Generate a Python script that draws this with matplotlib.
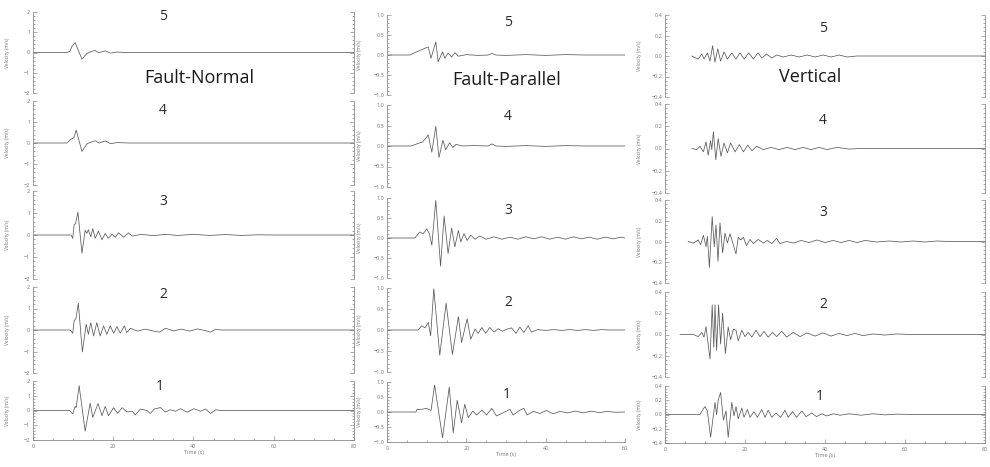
import matplotlib
matplotlib.use("Agg")
import matplotlib.pyplot as plt
from matplotlib.ticker import AutoMinorLocator, FixedLocator

plt.rcParams['font.family'] = ['Open Sans', 'DejaVu Sans']

# --- traces: (time s, velocity m/s) ---
# Fault-Normal, stations 5..1
fn5 = [(0, 0), (8.4, 0), (9.2, 0.05), (9.7, 0.3), (10.5, 0.49), (12.2, -0.33), (13.4, -0.05),
       (14.5, 0.05), (15.5, 0.1), (16.3, 0.0), (17.2, 0.03), (18.0, 0.08), (19.3, -0.03),
       (20.9, 0.02), (23.4, 0), (80, 0)]
fn4 = [(0, 0), (8.4, 0), (9.6, 0.2), (10.2, 0.25), (10.75, 0.62), (12.2, -0.4), (13.5, -0.03),
       (15.5, 0.11), (16.5, 0.0), (18.0, 0.1), (19.3, -0.03), (21.0, 0.02), (24.0, 0), (80, 0)]
fn3 = [(0, 0), (9.5, 0), (9.9, -0.15), (10.25, 0.46), (10.6, 0.52), (11.2, 1.04), (12.2, -0.83),
       (13.0, 0.22), (13.4, 0.07), (13.8, 0.24), (14.4, -0.08), (14.9, 0.29), (15.5, -0.15),
       (16.3, 0.18), (17.2, -0.22), (18.0, 0.07), (18.8, -0.15), (19.7, 0.04), (20.5, -0.1),
       (21.3, 0.1), (22.6, -0.1), (23.8, 0.1), (24.7, -0.05), (27, 0.03), (30, -0.03), (33, 0.03),
       (36, -0.02), (40, 0.03), (44, -0.02), (48, 0.02), (52, -0.02), (56, 0.01), (60, 0), (80, 0)]
fn2 = [(0, 0), (9.25, 0), (9.9, -0.15), (10.25, 0.42), (10.7, 0.53), (11.3, 1.24), (12.3, -1.02),
       (13.25, 0.27), (13.8, -0.2), (14.4, 0.34), (15.1, -0.28), (15.9, 0.34), (16.75, -0.28),
       (17.6, 0.19), (18.4, -0.2), (19.25, 0.19), (20.1, -0.15), (20.9, 0.16), (21.75, -0.15),
       (22.75, 0.19), (23.4, -0.12), (24.25, 0.08), (26, -0.05), (28, 0.04), (30, -0.05),
       (31.5, -0.1), (33, 0.08), (35, -0.04), (37, 0.04), (39, -0.05), (41, 0.05), (43, -0.03),
       (44.2, -0.1), (45.5, 0.03), (47, 0), (80, 0)]
fn1 = [(0, 0), (9.1, 0), (9.9, -0.23), (10.5, 0.28), (10.75, 0.2), (11.5, 1.68), (13.0, -1.4),
       (14.25, 0.5), (14.9, -0.47), (16.2, 0.47), (17.2, -0.35), (18.0, 0.28), (18.8, -0.35),
       (20.1, 0.19), (21.1, -0.19), (22.2, 0.19), (23.4, -0.1), (24.7, -0.05), (25.5, -0.3),
       (26.75, 0.1), (28.4, 0.0), (29.25, -0.2), (30.25, 0.1), (31.75, 0.2), (33.0, -0.1),
       (34.25, 0.05), (35.5, -0.05), (36.75, 0.12), (38.4, -0.12), (40.1, 0.12), (41.75, -0.05),
       (43.0, 0.1), (44.25, -0.2), (45.5, 0.05), (46.75, 0), (80, 0)]

# Fault-Parallel, stations 5..1
fp5 = [(0, 0), (5.8, 0), (7.5, 0.08), (9.6, 0.17), (10.4, 0.2), (11.1, -0.08), (12.3, 0.33),
       (12.9, -0.17), (14.0, 0.08), (14.6, -0.08), (15.4, 0.05), (16.3, -0.05), (17.1, 0.06),
       (18.0, -0.03), (20, 0.01), (23, -0.01), (25.5, 0.0), (26.4, 0.04), (27.5, 0.0),
       (30, -0.01), (35, 0.01), (40, -0.01), (45, 0.01), (50, 0), (60, 0)]
fp4 = [(0, 0), (6.0, 0), (7.5, 0.05), (9.0, 0.1), (10.4, 0.27), (11.3, -0.15), (12.3, 0.48),
       (13.1, -0.28), (14.1, 0.14), (14.8, -0.09), (15.8, 0.08), (16.6, -0.04), (17.4, 0.04),
       (19, 0.0), (22, 0.01), (25.5, 0.0), (26.4, 0.05), (27.5, 0.0), (30, -0.01), (35, 0.01),
       (40, -0.01), (45, 0.01), (50, 0), (60, 0)]
fp3 = [(0, 0), (7.0, 0), (8.3, 0.15), (9.1, 0.1), (10.0, 0.23), (10.7, 0.1), (11.3, -0.18),
       (12.3, 0.94), (13.5, -0.7), (14.4, 0.55), (15.4, -0.39), (16.3, 0.25), (17.1, -0.22),
       (18.0, 0.19), (18.6, -0.1), (19.4, 0.11), (20.2, -0.06), (21.1, 0.07), (22.2, -0.03),
       (23.4, 0.05), (25, -0.03), (27, 0.03), (29, -0.03), (31, 0.02), (33, -0.03), (35, 0.03),
       (37, -0.02), (39, 0.03), (41, -0.03), (43, 0.02), (45, -0.03), (47, 0.03), (49, -0.02),
       (51, 0.02), (53, -0.03), (55, 0.02), (57, -0.02), (59, 0.02), (60, 0)]
fp2 = [(0, 0), (7.9, 0), (8.7, 0.1), (9.6, 0.05), (10.4, 0.18), (11.0, -0.14), (11.8, 0.98),
       (13.3, -0.6), (14.9, 0.64), (16.5, -0.58), (18.0, 0.32), (18.8, -0.3), (20.2, 0.27),
       (21.1, -0.22), (22.2, 0.02), (23.0, -0.08), (23.9, 0.06), (24.9, -0.08), (25.9, 0.06),
       (27.0, -0.05), (28.0, 0.03), (29.1, -0.03), (30.2, 0.02), (31.4, 0.05), (32.5, -0.08),
       (33.5, 0.07), (34.5, -0.06), (35.6, 0.1), (36.4, -0.05), (38, 0.01), (40, -0.01),
       (42, 0.01), (44, -0.01), (46, 0.01), (48, -0.01), (50, 0.01), (52, -0.01), (54, 0.01),
       (56, 0), (60, 0)]
fp1 = [(0, 0), (7.3, 0), (7.5, 0.08), (8.7, 0.09), (10.0, 0.12), (11.1, 0.05), (12.0, 0.9),
       (14.0, -0.86), (15.7, 0.83), (16.7, -0.69), (17.7, 0.39), (18.8, -0.36), (19.6, 0.26),
       (20.5, -0.19), (21.6, 0.03), (22.6, -0.1), (23.9, 0.06), (25.1, -0.1), (26.4, 0.12),
       (27.6, -0.13), (28.9, -0.05), (31.0, 0.09), (31.8, -0.1), (33.5, 0.06), (34.5, 0.12),
       (35.3, -0.1), (36.9, 0.02), (38.5, -0.05), (40.2, 0.05), (41.9, -0.06), (43.6, 0.02),
       (45.5, -0.03), (47.5, 0.03), (49.5, -0.03), (51.5, 0.03), (53.5, -0.02), (55.5, 0.02),
       (57.5, -0.01), (60, 0)]

# Vertical, stations 5..1
vt5 = [(6.7, 0), (7.1, -0.01), (8.3, -0.03), (9.2, 0.02), (9.75, -0.03), (10.6, 0.03),
       (11.25, -0.05), (11.9, 0.1), (12.5, -0.06), (13.2, 0.07), (13.9, -0.05), (14.75, 0.04),
       (15.6, -0.03), (16.7, 0.03), (17.75, -0.03), (18.75, 0.03), (19.8, -0.03), (20.9, 0.03),
       (22.1, -0.03), (23.2, 0.03), (24.25, -0.02), (25.4, 0.02), (26.7, -0.02), (27.9, 0.01),
       (29.6, -0.01), (31.5, 0.01), (33.5, -0.01), (35.5, 0.01), (37.5, -0.01), (39.5, 0.01),
       (41.5, -0.01), (43.5, 0.01), (45.5, -0.01), (48, 0), (80, 0)]
vt4 = [(6.7, 0), (7.9, -0.01), (8.75, 0.02), (9.6, -0.03), (10.25, 0.06), (10.8, -0.06),
       (11.4, 0.07), (11.7, -0.01), (12.1, 0.15), (12.7, -0.1), (13.3, 0.09), (14.0, -0.07),
       (14.75, 0.05), (15.6, -0.04), (16.4, 0.05), (17.5, -0.03), (18.6, 0.035), (19.6, -0.03),
       (20.7, 0.03), (21.75, -0.02), (22.9, 0.02), (24.6, -0.01), (26.5, 0.01), (28.5, -0.01),
       (30.5, 0.01), (32.5, -0.01), (34.5, 0.01), (36.5, -0.01), (38.5, 0.01), (40.5, -0.01),
       (43, 0.01), (46, -0.005), (49, 0), (80, 0)]
vt3 = [(5.8, 0), (7.1, -0.015), (8.3, 0.015), (8.9, -0.03), (9.6, 0.06), (10.25, -0.05),
       (10.6, 0.05), (11.1, -0.25), (11.8, 0.24), (12.3, -0.05), (12.75, 0.16), (13.25, -0.19),
       (13.75, 0.18), (14.4, -0.11), (15.0, 0.08), (15.6, -0.015), (16.25, 0.075), (17.75, -0.12),
       (18.3, 0.04), (18.9, 0.015), (19.6, 0.04), (20.4, -0.04), (21.25, 0.02), (22.1, -0.02),
       (23.3, 0.02), (24.6, -0.015), (25.6, 0.01), (26.7, -0.02), (27.9, 0.03), (28.75, -0.02),
       (30.4, 0.0), (32.1, -0.015), (34, 0.01), (36, -0.01), (38, 0.015), (40, -0.01), (42, 0.01),
       (44, -0.01), (46, 0.01), (48, -0.01), (50, 0.01), (53, -0.005), (56, 0.005), (59, -0.005),
       (62, 0.005), (65, -0.005), (68, 0.005), (71, 0), (80, 0)]
vt2 = [(3.75, 0), (7.1, 0), (8.3, -0.02), (9.2, 0.02), (9.75, -0.025), (10.25, 0.075),
       (11.25, -0.23), (11.8, 0.28), (12.2, -0.12), (12.5, 0.28), (12.9, -0.15), (13.4, 0.28),
       (13.9, -0.09), (14.4, 0.2), (15.1, -0.18), (15.8, 0.07), (16.4, -0.05), (17.1, 0.05),
       (17.75, 0.04), (18.3, -0.06), (19.2, 0.04), (20.0, -0.02), (20.8, 0.02), (21.7, -0.025),
       (22.75, 0.04), (23.75, -0.02), (24.75, 0.03), (25.8, -0.025), (26.9, 0.02), (27.9, -0.02),
       (29.2, 0.03), (30.4, -0.025), (32.1, 0.02), (33.75, -0.02), (35.5, 0.015), (37.5, -0.015),
       (39.5, 0.015), (41.5, -0.015), (43.5, 0.01), (45.5, -0.01), (47.5, 0.01), (49.5, -0.01),
       (52, 0.005), (55, -0.005), (58, 0.005), (61, 0), (80, 0)]
vt1 = [(0, 0), (8.75, 0), (9.6, 0.08), (10.0, 0.11), (10.6, 0.05), (11.4, -0.32), (12.5, 0.17),
       (12.9, 0.0), (13.3, 0.2), (13.9, 0.31), (14.6, -0.08), (15.25, 0.05), (15.8, -0.32),
       (16.7, 0.17), (17.25, -0.02), (17.75, 0.11), (18.3, -0.06), (19.2, 0.09), (19.75, -0.04),
       (20.6, 0.07), (21.25, -0.04), (22.25, 0.04), (23.1, -0.04), (24.2, 0.07), (25.0, -0.04),
       (25.8, 0.06), (26.7, -0.04), (27.75, 0.02), (28.9, -0.04), (30.0, 0.06), (30.8, -0.04),
       (31.9, 0.04), (32.9, -0.04), (34.2, 0.05), (35.25, -0.03), (36.7, 0.02), (37.9, -0.03),
       (39.2, 0.01), (40.4, -0.02), (42.1, 0.01), (43.75, -0.01), (46, 0.01), (49, -0.01),
       (52, 0.01), (55, -0.005), (58, 0.005), (62, 0), (80, 0)]

stations = ['5', '4', '3', '2', '1']
titles = ['Fault-Normal', 'Fault-Parallel', 'Vertical']
columns_data = [[fn5, fn4, fn3, fn2, fn1], [fp5, fp4, fp3, fp2, fp1], [vt5, vt4, vt3, vt2, vt1]]
y_limits = [2.0, 1.0, 0.4]
y_ticks = [[-2, -1, 0, 1, 2], [-1.0, -0.5, 0.0, 0.5, 1.0], [-0.4, -0.2, 0.0, 0.2, 0.4]]
y_fmt = ['{:.0f}', '{:.1f}', '{:.1f}']
x_max = [80, 60, 80]

# --- layout in pixels ---
W, H = 990, 467
col_x = [(33, 354), (387, 625), (665, 985)]
rows_px = [
    [(12, 93), (101, 185), (191, 279), (287, 373), (381, 440)],
    [(15, 95), (105, 187), (198, 278), (288, 372), (382, 442)],
    [(15, 97), (104, 193), (200, 283), (292, 377), (386, 443)],
]
right_spine = [True, False, True]
ylabel_x = [10, 362, 642]
num_pos = [
    [(163, 17), (163, 110), (163, 202), (163, 295), (160, 387)],
    [(508, 22), (508, 117), (508, 210), (508, 303), (507, 395)],
    [(823, 28), (823, 121), (823, 213), (823, 305), (820, 397)],
]
title_pos = [(199, 78), (507, 80), (810, 77)]

GRAY = '#8a8a8a'
TRACE = '#5a5a5a'

fig = plt.figure(figsize=(W / 100, H / 100), dpi=100)

for c in range(3):
    x0, x1 = col_x[c]
    for r in range(5):
        ytop, ybot = rows_px[c][r]
        ax = fig.add_axes([x0 / W, 1 - ybot / H, (x1 - x0) / W, (ybot - ytop) / H])
        ax.patch.set_alpha(0)
        pts = columns_data[c][r]
        ax.plot([p[0] for p in pts], [p[1] for p in pts], color=TRACE, lw=0.55)
        lim = y_limits[c]
        ax.set_xlim(0, x_max[c])
        ax.set_ylim(-lim, lim)
        ax.yaxis.set_major_locator(FixedLocator(y_ticks[c]))
        ax.set_yticklabels([y_fmt[c].format(v).replace('-', '\u2212') for v in y_ticks[c]])
        ax.yaxis.set_minor_locator(AutoMinorLocator(5))
        ax.spines['top'].set_visible(False)
        ax.spines['right'].set_visible(right_spine[c])
        for s in ax.spines.values():
            s.set_color(GRAY)
            s.set_linewidth(0.6)
        ax.tick_params(axis='y', which='both', direction='in', right=right_spine[c],
                       labelright=False, colors=GRAY, labelcolor='#777777', labelsize=4, pad=2,
                       width=0.5)
        ax.tick_params(axis='y', which='major', length=3)
        ax.tick_params(axis='y', which='minor', length=1.5)
        ax.set_ylabel('Velocity (m/s)', fontsize=3.5, color='#777777')
        ax.yaxis.set_label_coords((ylabel_x[c] - x0) / (x1 - x0), 0.5)
        if r < 4:
            ax.spines['bottom'].set_visible(False)
            ax.set_xticks([])
        else:
            ax.set_xticks(list(range(0, x_max[c] + 1, 20)))
            ax.xaxis.set_minor_locator(AutoMinorLocator(4))
            ax.tick_params(axis='x', which='both', direction='in', colors=GRAY,
                           labelcolor='#777777', labelsize=4, pad=3, width=0.5)
            ax.tick_params(axis='x', which='major', length=3)
            ax.tick_params(axis='x', which='minor', length=1.5)
            ax.set_xlabel('Time (s)', fontsize=4, color='#777777', labelpad=0.5)
        nx, ny = num_pos[c][r]
        fig.text(nx / W, 1 - ny / H, stations[r], fontsize=10, color='#2a2a2a',
                 ha='center', va='center')
    tx, ty = title_pos[c]
    fig.text(tx / W, 1 - ty / H, titles[c], fontsize=13, color='#1a1a1a',
             ha='center', va='center')

fig.savefig('out.png', dpi=100, facecolor='white')
